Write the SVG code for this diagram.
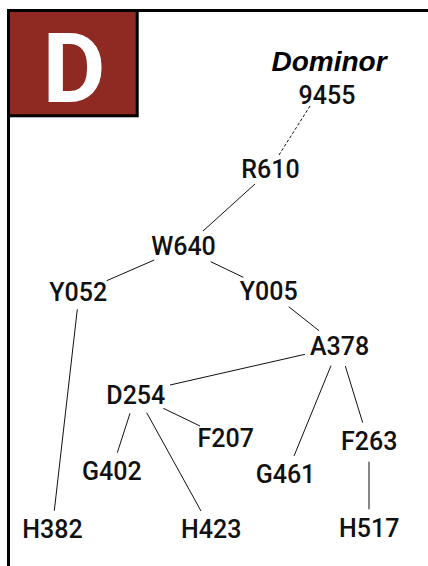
<svg xmlns="http://www.w3.org/2000/svg" width="428" height="566" viewBox="0 0 428 566">
<style>
.lbl{font-family:Roboto,"Liberation Sans",sans-serif;font-size:25px;font-weight:500;fill:#111;text-anchor:middle}
.edge{stroke:#111;stroke-width:1;fill:none}
.dash{stroke-dasharray:3 2}
</style>
<rect x="0" y="0" width="428" height="566" fill="#fff"/>
<g id="frame">
<path d="M7 10.5H428M8.5 9V566" stroke="#000" stroke-width="3" fill="none"/>
<rect x="8.5" y="10.5" width="128.7" height="105.3" fill="#8F2A22" stroke="#000" stroke-width="3"/>
<text x="74" y="102" font-family="Roboto,'Liberation Sans',sans-serif" font-size="97" font-weight="bold" fill="#fff" text-anchor="middle">D</text>
<text x="329" y="70.5" font-family="'Liberation Sans',sans-serif" font-size="28" font-weight="bold" font-style="italic" fill="#000" text-anchor="middle">Dominor</text>
</g>
<g id="connectors">
<line class="edge dash" x1="310" y1="106" x2="279" y2="155"/>
<line class="edge" x1="255" y1="184" x2="203" y2="231"/>
<line class="edge" x1="154.3" y1="260" x2="106.7" y2="280.7"/>
<line class="edge" x1="210.7" y1="261.7" x2="243.3" y2="277.3"/>
<line class="edge" x1="288.7" y1="306.7" x2="319" y2="330.7"/>
<line class="edge" x1="77.3" y1="309.3" x2="54.3" y2="510.7"/>
<line class="edge" x1="305" y1="354.3" x2="170" y2="385"/>
<line class="edge" x1="331" y1="365.7" x2="294" y2="456"/>
<line class="edge" x1="345.3" y1="366" x2="362.7" y2="422.7"/>
<line class="edge" x1="130" y1="413.3" x2="117.3" y2="452.7"/>
<line class="edge" x1="146.7" y1="412.7" x2="201" y2="511"/>
<line class="edge" x1="163.3" y1="408.3" x2="200" y2="426"/>
<line class="edge" x1="369" y1="461.7" x2="369" y2="509.3"/>
</g>
<g id="n9455"><text class="lbl" x="327" y="104">9455</text></g>
<g id="R610"><text class="lbl" x="270.5" y="178">R610</text></g>
<g id="W640"><text class="lbl" x="183.5" y="255">W640</text></g>
<g id="Y052"><text class="lbl" x="78.3" y="300.5">Y052</text></g>
<g id="Y005"><text class="lbl" x="268.8" y="300">Y005</text></g>
<g id="A378"><text class="lbl" x="339.5" y="355">A378</text></g>
<g id="D254"><text class="lbl" x="135.8" y="403.5">D254</text></g>
<g id="F207"><text class="lbl" x="225.7" y="446.7">F207</text></g>
<g id="G402"><text class="lbl" x="111.8" y="480">G402</text></g>
<g id="F263"><text class="lbl" x="369.3" y="450">F263</text></g>
<g id="G461"><text class="lbl" x="285.5" y="482.7">G461</text></g>
<g id="H382"><text class="lbl" x="52.5" y="538.3">H382</text></g>
<g id="H423"><text class="lbl" x="211.3" y="538.3">H423</text></g>
<g id="H517"><text class="lbl" x="369.2" y="536.7">H517</text></g>
</svg>
